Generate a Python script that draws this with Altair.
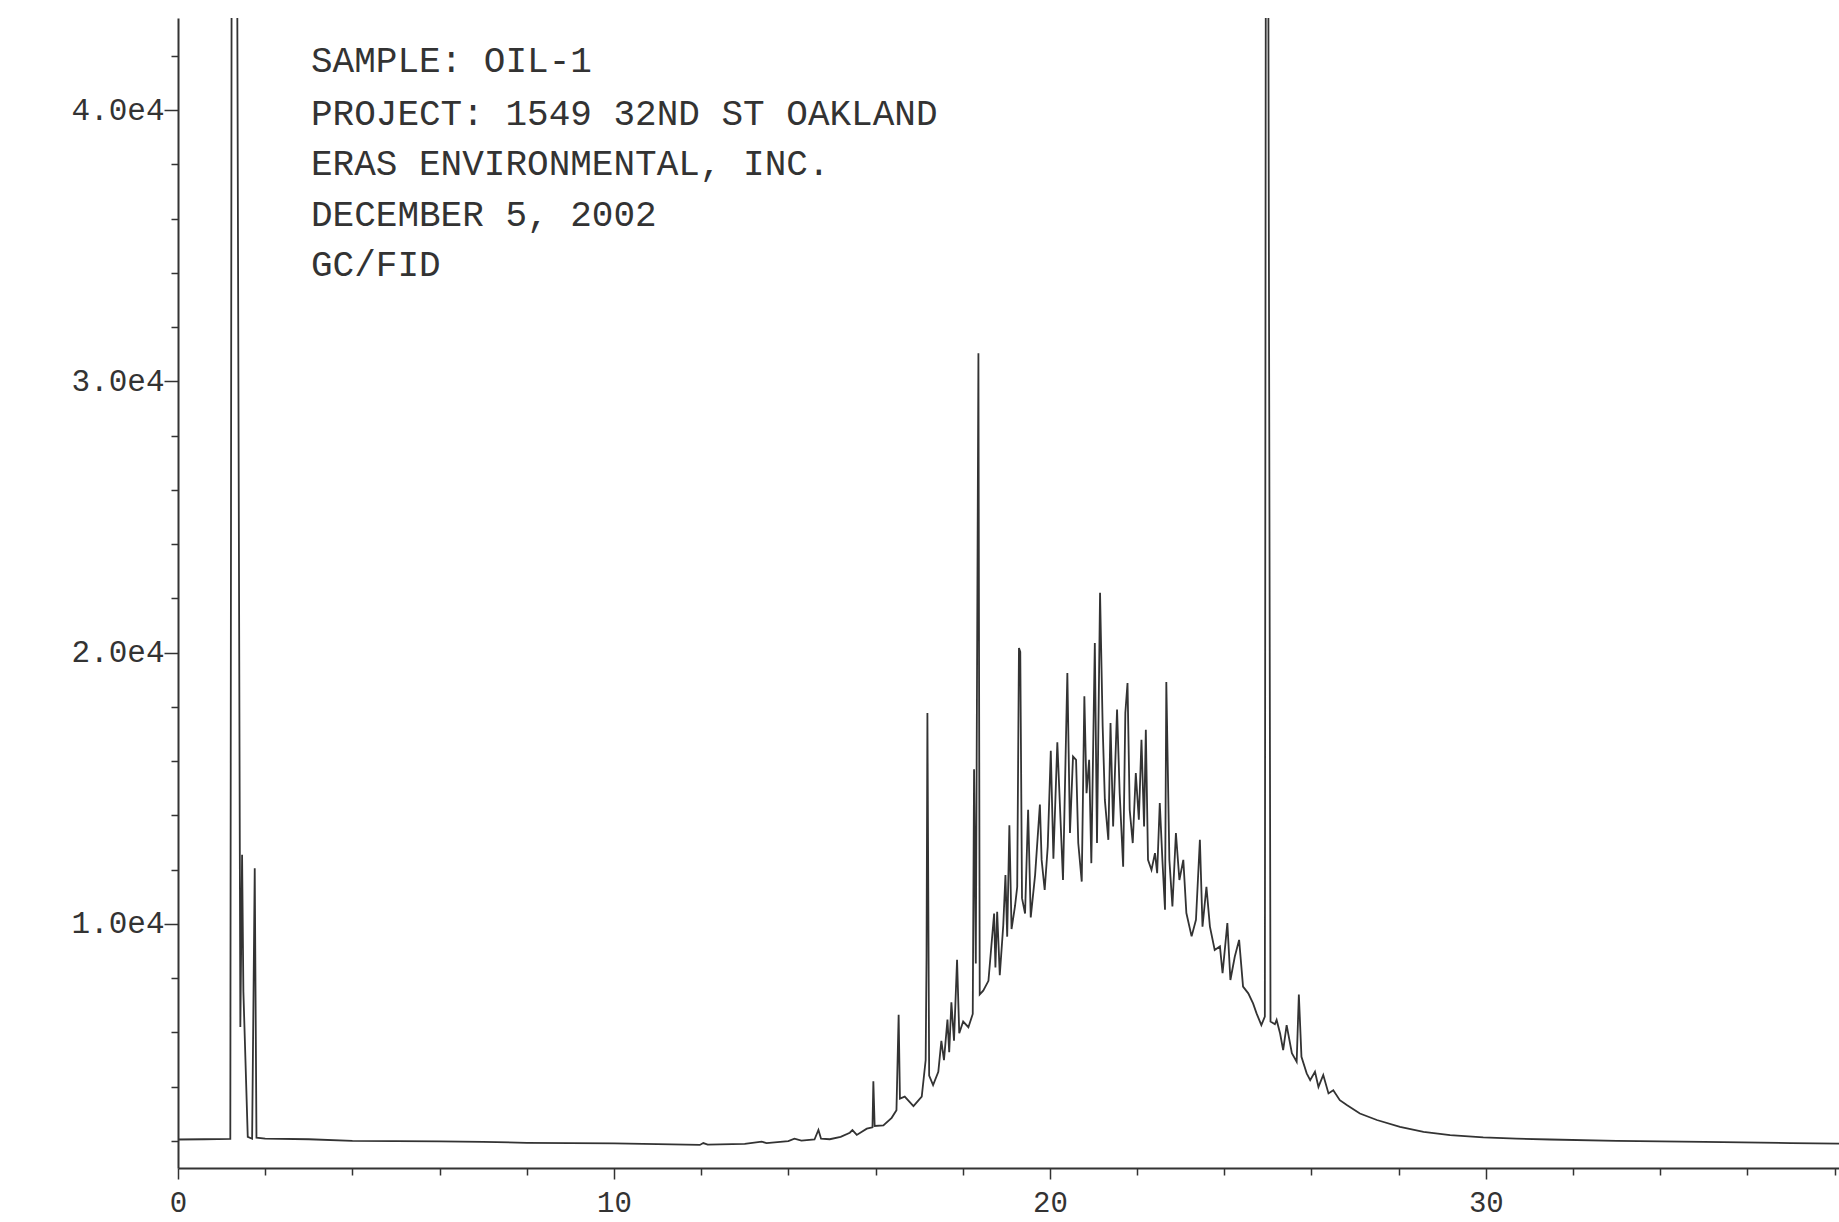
import altair as alt
import pandas as pd

# ---------------- data ----------------
TIME_MIN = [
    0.0, 0.6, 1.20, 1.24, 1.33, 1.43, 1.47, 1.50, 1.60, 1.70, 1.76, 1.80,
    2.0, 3.0, 4.0, 5.0, 6.0, 7.0, 8.0, 9.0, 10.0, 11.0, 11.97, 12.05, 12.15,
    13.0, 13.39, 13.5, 14.0, 14.14, 14.3, 14.6, 14.69, 14.75, 14.95, 15.2,
    15.41, 15.47, 15.57, 15.80, 15.93, 15.95, 15.98, 16.18, 16.37, 16.48,
    16.53, 16.56, 16.67, 16.87, 17.06, 17.15, 17.17, 17.19, 17.23, 17.32,
    17.44, 17.51, 17.57, 17.65, 17.69, 17.74, 17.80, 17.87, 17.92, 18.01,
    18.13, 18.23, 18.26, 18.30, 18.36, 18.39, 18.47, 18.59, 18.66, 18.72,
    18.75, 18.79, 18.85, 18.93, 18.98, 19.02, 19.07, 19.12, 19.20, 19.25,
    19.29, 19.32, 19.36, 19.43, 19.50, 19.56, 19.66, 19.77, 19.81, 19.88,
    19.95, 20.02, 20.08, 20.17, 20.30, 20.40, 20.46, 20.53, 20.60, 20.65,
    20.73, 20.79, 20.84, 20.90, 20.95, 21.03, 21.08, 21.15, 21.21, 21.26,
    21.34, 21.39, 21.45, 21.54, 21.60, 21.68, 21.73, 21.78, 21.83, 21.90,
    21.97, 22.04, 22.10, 22.16, 22.20, 22.25, 22.33, 22.41, 22.46, 22.52,
    22.58, 22.64, 22.67, 22.74, 22.81, 22.89, 22.97, 23.06, 23.13, 23.25,
    23.35, 23.44, 23.50, 23.59, 23.67, 23.78, 23.90, 23.96, 24.07, 24.14,
    24.24, 24.34, 24.43, 24.55, 24.66, 24.74, 24.85, 24.93, 24.96, 24.99,
    25.06, 25.16, 25.20, 25.28, 25.35, 25.43, 25.55, 25.66, 25.71, 25.77,
    25.89, 25.97, 26.08, 26.16, 26.27, 26.39, 26.50, 26.65, 26.81, 27.11,
    27.50, 28.03, 28.57, 29.18, 29.94, 30.70, 31.47, 33.0, 35.0, 37.0, 38.1,
]
RESPONSE = [
    2050, 2060, 2070, 60000, 60000, 6200, 12550, 7500, 2150, 2080, 12050, 2120,
    2080, 2060, 2000, 1990, 1980, 1960, 1930, 1920, 1910, 1880, 1850, 1920, 1860,
    1890, 1970, 1920, 1990, 2080, 2010, 2050, 2400, 2080, 2060, 2150,
    2300, 2400, 2220, 2450, 2500, 4200, 2550, 2570, 2850, 3130,
    6650, 3560, 3630, 3280, 3630, 4980, 8820, 17780, 4410, 4060,
    4550, 5690, 4980, 6470, 5270, 7110, 5690, 8680, 5970, 6400,
    6190, 6680, 15700, 8540, 31040, 7400, 7540, 7900, 9240, 10380,
    8390, 10450, 8110, 9950, 11800, 9530, 13640, 9810, 10660, 11370,
    20170, 20030, 10950, 10380, 14210, 10240, 11800, 14400, 12360, 11250,
    12850, 16380, 12400, 16700, 11620, 19250, 13350, 16170, 16050, 12980,
    11560, 18390, 14820, 16050, 12240, 20360, 12980, 22210, 17280, 14570,
    13100, 17410, 13590, 17900, 14820, 12110, 17780, 18880, 14210, 12980,
    15560, 13840, 16790, 13590, 17160, 12360, 11990, 12610, 11870, 14460,
    12360, 10520, 18920, 12360, 10640, 13350, 11620, 12360, 10400, 9540,
    10150, 13100, 9900, 11370, 9900, 9040, 9170, 8180, 10030, 7930,
    8790, 9410, 7690, 7440, 7070, 6700, 6270, 6580, 60000, 60000,
    6400, 6300, 6460, 5960, 5350, 6270, 5230, 4920, 7400, 5100,
    4490, 4240, 4550, 3990, 4430, 3750, 3870, 3500, 3320, 3010,
    2770, 2520, 2330, 2210, 2130, 2080, 2050, 2000, 1960, 1920, 1900,
]

ANNOTATION_LINES = [
    "SAMPLE:  OIL-1",
    "PROJECT:  1549 32ND ST OAKLAND",
    "ERAS ENVIRONMENTAL, INC.",
    "DECEMBER 5, 2002",
    "GC/FID",
]

X_TICKS = list(range(0, 39, 2))
Y_TICKS = list(range(2000, 42001, 2000))
X_DOMAIN = [0, 38.1]
Y_DOMAIN = [1000, 43400]

# ---------------- layout / style ----------------
W, H = 1661, 1150
FONT = "Liberation Mono"
INK = "#333333"
TEXT_X = 133
TEXT_Y = [43, 96, 146, 197, 247]

df = pd.DataFrame({"t": TIME_MIN, "v": RESPONSE})

x_axis = alt.Axis(
    values=X_TICKS,
    labelExpr="datum.value % 10 === 0 ? datum.label : ''",
    tickSize={"condition": {"test": "datum.value % 10 === 0", "value": 11}, "value": 7},
    labelPadding=9,
    labelFontSize=29,
    labelFlush=False,
    labelOverlap=False,
    labelBound=False,
    title=None,
)
y_axis = alt.Axis(
    values=Y_TICKS,
    labelExpr="datum.value % 10000 === 0 ? format(datum.value / 10000, '.1f') + 'e4' : ''",
    tickSize={"condition": {"test": "datum.value % 10000 === 0", "value": 14}, "value": 7},
    labelPadding=0,
    labelAlign="right",
    labelBaseline="middle",
    labelFontSize=31,
    labelFlush=False,
    labelOverlap=False,
    labelBound=False,
    title=None,
)

trace = alt.Chart(df).mark_line(color=INK, strokeWidth=1.8, clip=True).encode(
    x=alt.X("t:Q", scale=alt.Scale(domain=X_DOMAIN, nice=False, zero=False), axis=x_axis),
    y=alt.Y("v:Q", scale=alt.Scale(domain=Y_DOMAIN, nice=False, zero=False), axis=y_axis),
)

layers = [trace]
for s, yy in zip(ANNOTATION_LINES, TEXT_Y):
    layers.append(
        alt.Chart(pd.DataFrame({"s": [s]}))
        .mark_text(align="left", baseline="middle", font=FONT, fontSize=36, color=INK)
        .encode(x=alt.value(TEXT_X), y=alt.value(yy), text="s:N")
    )

chart = (
    alt.layer(*layers)
    .properties(
        width=W,
        height=H,
        padding={"left": 178, "top": 18, "right": 0, "bottom": 54},
        autosize=alt.AutoSizeParams(type="none"),
        background="white",
    )
    .configure_view(stroke=None)
    .configure_axis(
        grid=False,
        domainColor=INK,
        domainWidth=2,
        tickColor=INK,
        tickWidth=1.5,
        labelColor=INK,
        labelFont=FONT,
    )
)

chart.save("out.html", embed_options={"renderer": "svg", "actions": False})
